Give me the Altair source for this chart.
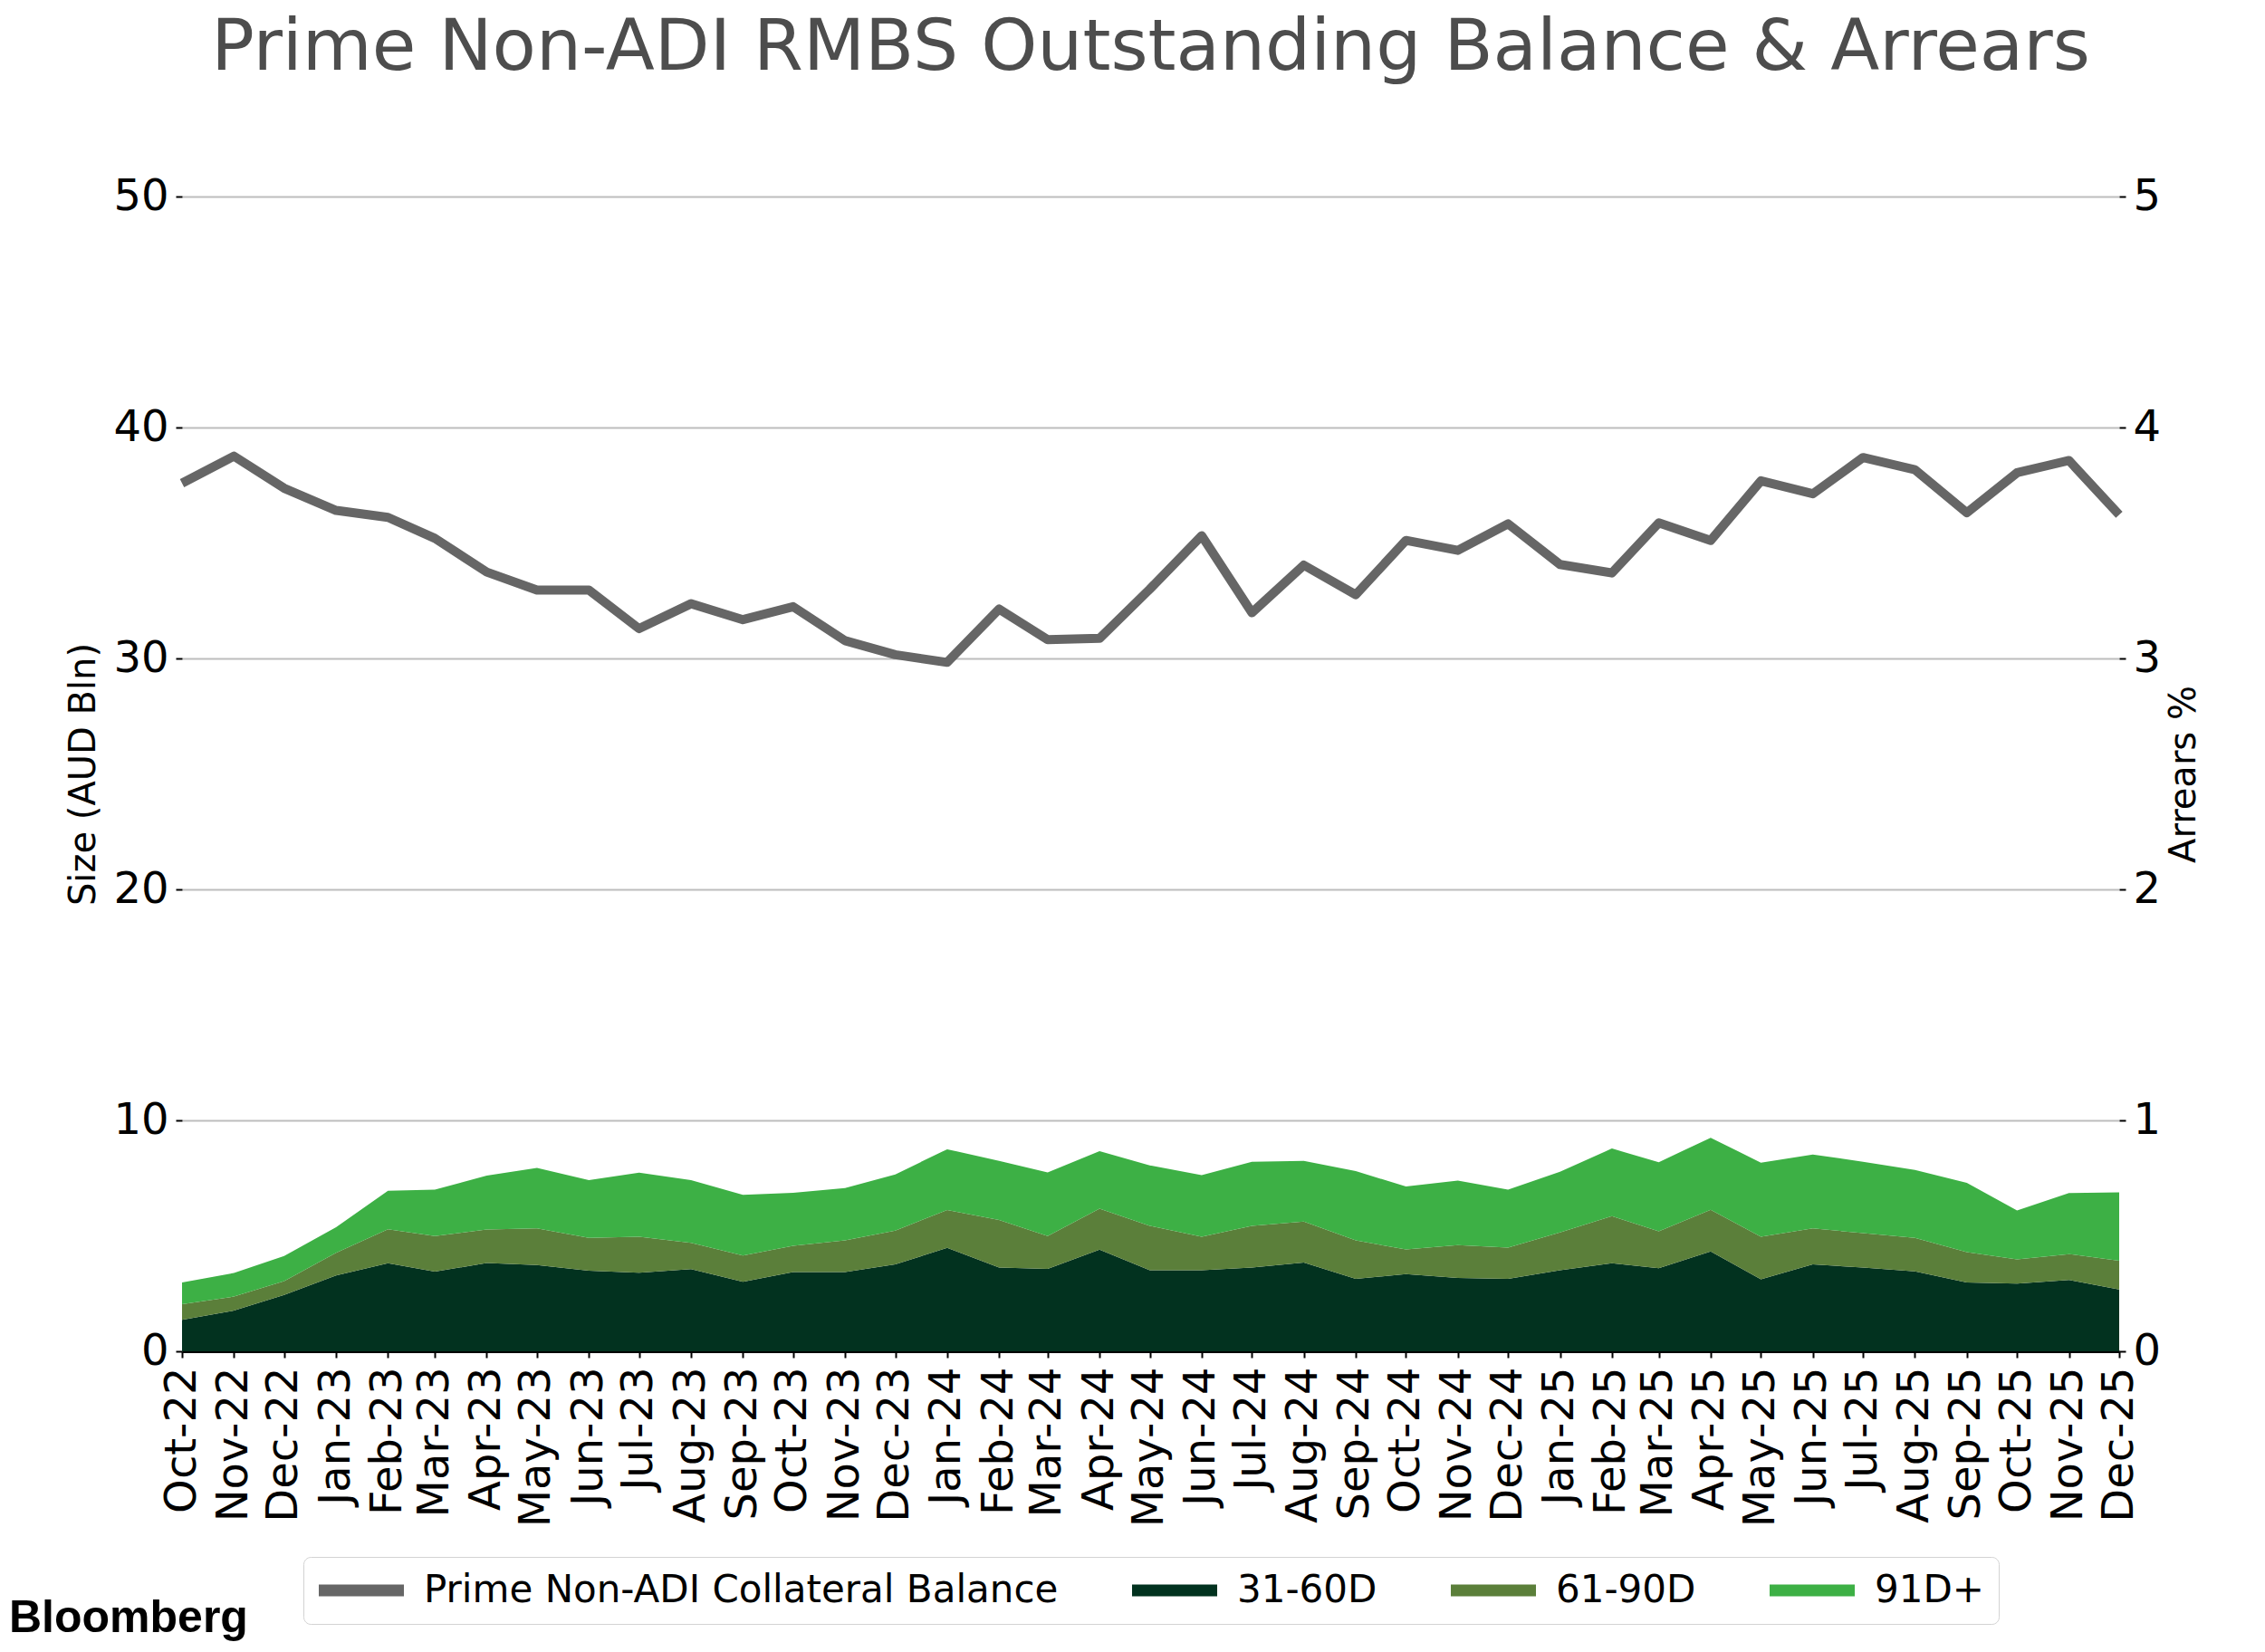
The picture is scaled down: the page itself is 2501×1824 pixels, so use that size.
import altair as alt
import pandas as pd

months = ["Oct-22", "Nov-22", "Dec-22", "Jan-23", "Feb-23", "Mar-23", "Apr-23", "May-23",
          "Jun-23", "Jul-23", "Aug-23", "Sep-23", "Oct-23", "Nov-23", "Dec-23", "Jan-24",
          "Feb-24", "Mar-24", "Apr-24", "May-24", "Jun-24", "Jul-24", "Aug-24", "Sep-24",
          "Oct-24", "Nov-24", "Dec-24", "Jan-25", "Feb-25", "Mar-25", "Apr-25", "May-25",
          "Jun-25", "Jul-25", "Aug-25", "Sep-25", "Oct-25", "Nov-25", "Dec-25"]

balance = [37.59, 38.76, 37.37, 36.41, 36.11, 35.20, 33.74, 32.96, 32.96, 31.29,
           32.37, 31.68, 32.24, 30.77, 30.16, 29.83, 32.14, 30.81, 30.87, 33.00,
           35.31, 31.98, 34.04, 32.76, 35.11, 34.68, 35.83, 34.07, 33.70, 35.87,
           35.11, 37.69, 37.13, 38.70, 38.17, 36.31, 38.04, 38.57, 36.22]

arr_31_60 = [0.136, 0.176, 0.244, 0.328, 0.381, 0.345, 0.382, 0.374, 0.349, 0.340,
             0.356, 0.301, 0.343, 0.343, 0.376, 0.448, 0.363, 0.357, 0.440, 0.351,
             0.351, 0.363, 0.384, 0.314, 0.334, 0.318, 0.314, 0.351, 0.381, 0.360,
             0.432, 0.312, 0.376, 0.363, 0.346, 0.298, 0.293, 0.309, 0.268]

arr_61_90 = [0.068, 0.061, 0.060, 0.098, 0.147, 0.154, 0.145, 0.158, 0.142, 0.156,
             0.114, 0.114, 0.114, 0.137, 0.147, 0.164, 0.206, 0.142, 0.178, 0.192,
             0.145, 0.180, 0.178, 0.166, 0.107, 0.142, 0.135, 0.164, 0.204, 0.160,
             0.181, 0.184, 0.156, 0.149, 0.145, 0.131, 0.105, 0.112, 0.124]

arr_91_plus = [0.094, 0.102, 0.109, 0.111, 0.167, 0.201, 0.234, 0.262, 0.250, 0.278,
               0.271, 0.262, 0.229, 0.227, 0.243, 0.263, 0.256, 0.276, 0.249, 0.262,
               0.267, 0.278, 0.263, 0.300, 0.273, 0.279, 0.251, 0.262, 0.293, 0.299,
               0.312, 0.321, 0.320, 0.309, 0.294, 0.300, 0.212, 0.264, 0.296]

series_names = ["Prime Non-ADI Collateral Balance", "31-60D", "61-90D", "91D+"]
series_colors = ["#666666", "#02321F", "#5B7F3A", "#3DB045"]
title_text = "Prime Non-ADI RMBS Outstanding Balance & Arrears"
logo_text = "Bloomberg"

dates = pd.to_datetime(months, format="%b-%y")
date_str = [d.strftime("%Y-%m-%dT00:00:00") for d in dates]
tick_values = [alt.DateTime(year=d.year, month=d.month, date=1) for d in dates]

line_df = pd.DataFrame({"date": date_str, "balance": balance,
                        "series": series_names[0]})

rows = []
for k, (name, vals) in enumerate(zip(series_names[1:], [arr_31_60, arr_61_90, arr_91_plus])):
    for d, v in zip(date_str, vals):
        rows.append({"date": d, "value": v, "bucket": name, "ord": k})
area_df = pd.DataFrame(rows)

FONT = "DejaVu Sans"
W, H = 2139, 1275
color_scale = alt.Scale(domain=series_names, range=series_colors)

SWATCH = "M-2.35,-0.33H2.35V0.33H-2.35Z"


def make_legend():
    return alt.Legend(orient="none", legendX=134, legendY=1502,
                      direction="horizontal", title=None,
                      symbolType=SWATCH, symbolSize=1600, symbolStrokeWidth=0,
                      symbolOffset=27, labelFontSize=42, labelFont=FONT,
                      labelColor="black", labelOffset=48, labelLimit=2000,
                      columnPadding=80, padding=16,
                      strokeColor="#D3D3D3", cornerRadius=8,
                      fillColor="white", symbolOpacity=1)


x_enc = alt.X(
    "date:T",
    scale=alt.Scale(domain=[tick_values[0], tick_values[-1]], nice=False),
    axis=alt.Axis(values=tick_values, format="%b-%y", labelAngle=270, labelFontSize=48,
                  labelFont=FONT, labelColor="black", labelPadding=10, labelFlush=False,
                  labelOverlap=False, labelBound=False, tickColor="black", tickSize=7,
                  tickWidth=2, domainColor="black", domainWidth=3, grid=False, title=None),
)

areas = alt.Chart(area_df).mark_area(interpolate="linear", opacity=1).encode(
    x=x_enc,
    y=alt.Y("value:Q", stack="zero",
            scale=alt.Scale(domain=[0, 5], nice=False),
            axis=alt.Axis(orient="right", values=[0, 1, 2, 3, 4, 5], grid=False,
                          domain=False, tickColor="black", tickSize=7, tickWidth=2,
                          labelFontSize=48, labelFont=FONT, labelColor="black",
                          labelPadding=8, title="Arrears %", titleFontSize=40,
                          titleFont=FONT, titleFontWeight="normal", titleColor="black",
                          titleAngle=270, titleBaseline="top", titlePadding=6)),
    color=alt.Color("bucket:N", scale=color_scale, legend=make_legend()),
    order=alt.Order("ord:Q"),
)

line = alt.Chart(line_df).mark_line(strokeWidth=10, strokeJoin="round").encode(
    x=x_enc,
    y=alt.Y("balance:Q",
            scale=alt.Scale(domain=[0, 50], nice=False),
            axis=alt.Axis(orient="left", values=[0, 10, 20, 30, 40, 50], grid=True,
                          gridColor="#BDBDBD", gridWidth=2, domain=False,
                          tickColor="black", tickSize=7, tickWidth=2,
                          labelFontSize=48, labelFont=FONT, labelColor="black",
                          labelPadding=8, title="Size (AUD Bln)", titleFontSize=40,
                          titleFont=FONT, titleFontWeight="normal", titleColor="black",
                          titlePadding=12)),
    color=alt.Color("series:N", scale=color_scale, legend=make_legend()),
)

logo = alt.Chart(pd.DataFrame({"t": [logo_text]})).mark_text(
    font="Liberation Sans", fontWeight="bold", fontSize=50, align="left",
    baseline="alphabetic", color="black"
).encode(text="t:N", x=alt.value(-191), y=alt.value(1585))

title = alt.Chart(pd.DataFrame({"t": [title_text]})).mark_text(
    font=FONT, fontSize=79, align="center", baseline="alphabetic", color="#4D4D4D"
).encode(text="t:N", x=alt.value(W / 2), y=alt.value(-140))

chart = alt.layer(areas, line, logo, title).resolve_scale(
    y="independent", color="shared"
).properties(
    width=W, height=H,
    autosize=alt.AutoSizeParams(type="none"),
    padding={"left": 193, "top": 209, "right": 143, "bottom": 322},
    background="white",
).configure_view(stroke=None)

chart.save("out.html", embed_options={"renderer": "svg", "actions": False})
